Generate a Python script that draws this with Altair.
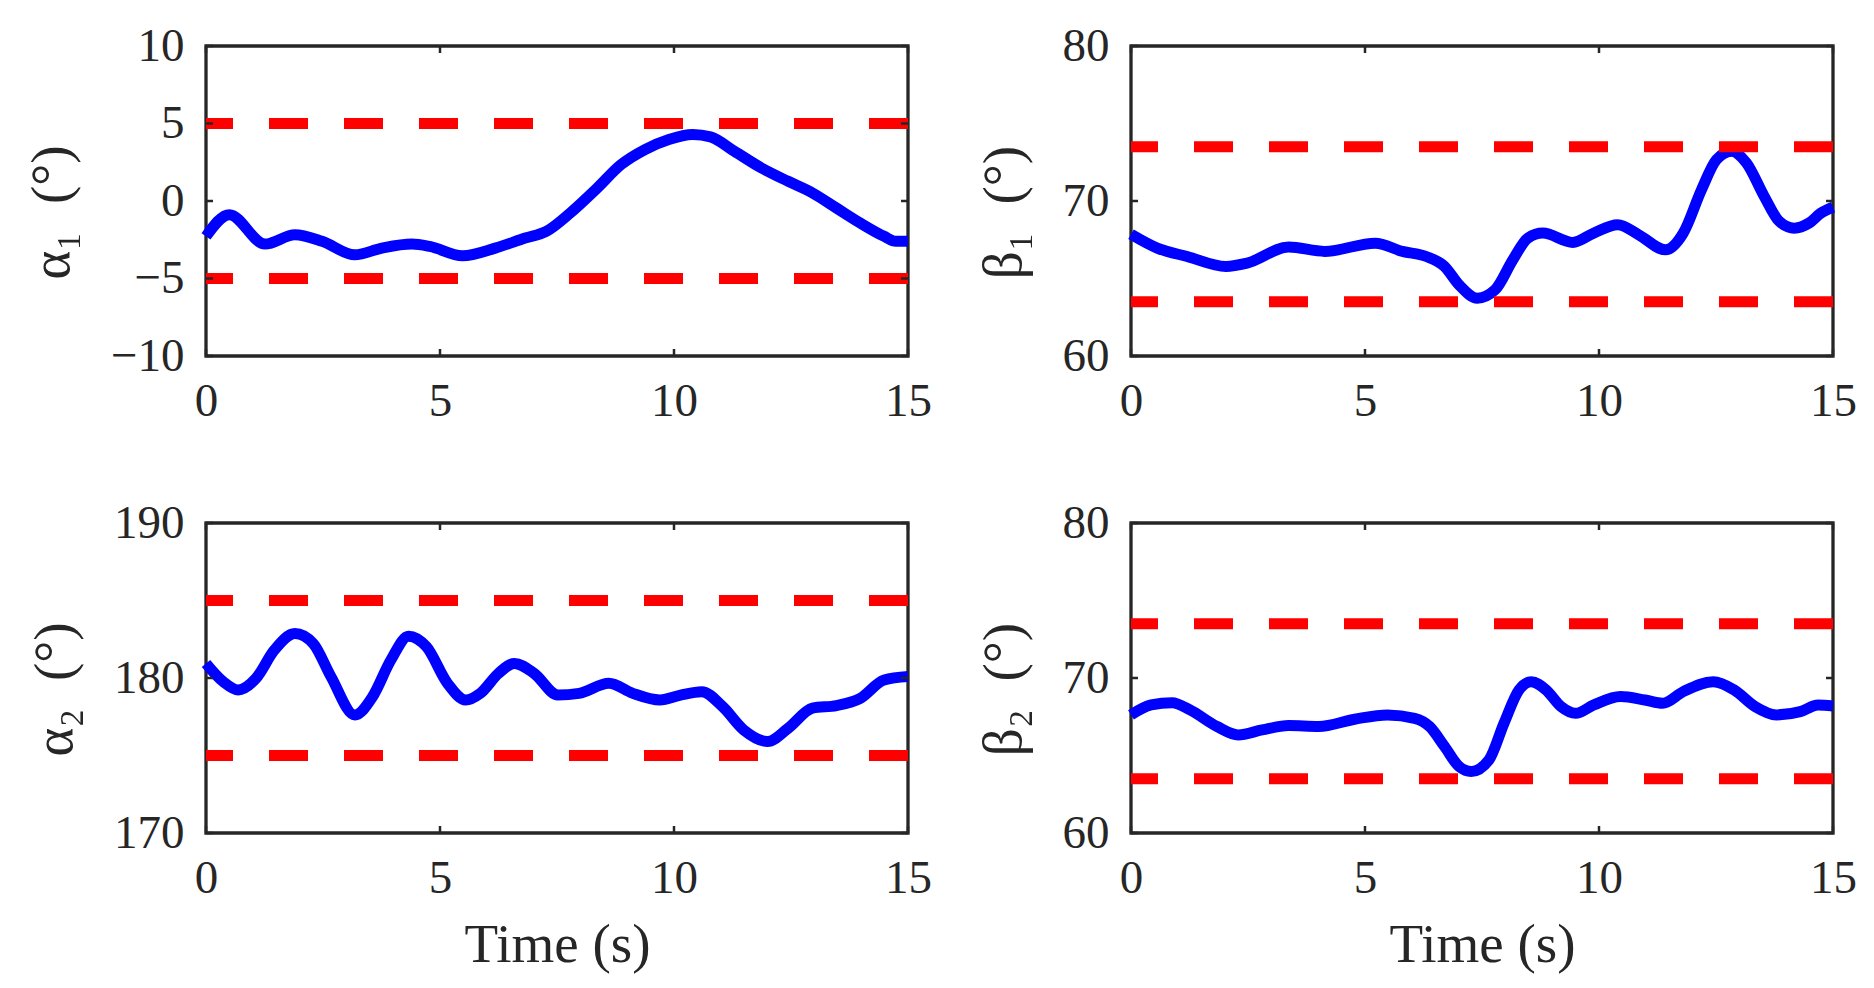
import altair as alt
import pandas as pd

FONT = "Liberation Serif"
INK = "#262626"
BLUE = "#0000ff"
RED = "#ff0000"

# ---- data ----
t_a1 = [0.0, 0.5, 1.26, 1.9, 2.48, 3.18, 3.76, 4.4, 4.78, 5.48, 6.18, 6.82, 7.27, 7.78,
        8.36, 8.87, 9.38, 9.89, 10.4, 10.78, 11.29, 11.87, 12.44, 12.96, 13.47, 13.98,
        14.49, 14.74, 15.0]
v_a1 = [-2.28, -0.88, -2.78, -2.18, -2.6, -3.47, -3.04, -2.78, -2.93, -3.53, -3.04, -2.39,
        -1.96, -0.78, 0.84, 2.35, 3.32, 3.97, 4.29, 4.14, 3.21, 2.13, 1.27, 0.52, -0.45,
        -1.42, -2.28, -2.6, -2.6]

t_b1 = [0.0, 0.56, 1.2, 2.03, 2.48, 3.37, 4.14, 5.22, 5.8, 6.31, 6.7, 7.01, 7.4, 7.78,
        8.16, 8.48, 8.8, 9.44, 9.89, 10.4, 10.85, 11.42, 11.8, 12.19, 12.51, 12.83, 13.15,
        13.53, 13.85, 14.17, 14.49, 14.74, 15.0]
v_b1 = [67.85, 66.96, 66.42, 65.78, 65.99, 67.03, 66.75, 67.28, 66.75, 66.42, 65.78, 64.59,
        63.73, 64.27, 66.21, 67.61, 67.93, 67.33, 67.93, 68.47, 67.82, 66.85, 67.93, 70.73,
        72.67, 73.21, 72.46, 70.3, 68.69, 68.25, 68.58, 69.22, 69.61]

t_a2 = [0.0, 0.37, 0.69, 1.07, 1.46, 1.9, 2.29, 2.67, 3.18, 3.56, 3.95, 4.33, 4.71, 5.16,
        5.55, 5.86, 6.25, 6.59, 7.01, 7.52, 7.97, 8.61, 9.12, 9.7, 10.14, 10.59, 11.04,
        11.49, 12.0, 12.44, 12.96, 13.47, 13.98, 14.49, 15.0]
v_a2 = [180.94, 179.76, 179.23, 179.98, 181.8, 182.87, 182.23, 180.09, 177.62, 178.8,
        181.16, 182.7, 182.02, 179.66, 178.58, 179.01, 180.3, 180.94, 180.3, 178.9, 179.01,
        179.66, 179.01, 178.58, 178.9, 179.12, 178.15, 176.65, 175.9, 176.76, 178.05,
        178.22, 178.69, 179.87, 180.09]

t_b2 = [0.0, 0.43, 0.88, 1.26, 1.84, 2.29, 2.8, 3.37, 4.01, 4.78, 5.48, 6.06, 6.38, 6.7,
        7.01, 7.27, 7.65, 7.97, 8.29, 8.55, 8.87, 9.19, 9.5, 9.89, 10.46, 10.98, 11.36,
        11.8, 12.44, 12.89, 13.34, 13.79, 14.3, 14.68, 15.0]
v_b2 = [67.62, 68.26, 68.41, 67.94, 66.87, 66.33, 66.65, 66.93, 66.87, 67.34, 67.62, 67.4,
        66.87, 65.58, 64.29, 63.97, 64.72, 67.08, 69.23, 69.76, 69.23, 68.15, 67.72, 68.26,
        68.8, 68.58, 68.37, 69.12, 69.76, 69.23, 68.15, 67.62, 67.83, 68.26, 68.2]

lim_a1 = [-5, 5]
lim_b1 = [63.5, 73.5]
lim_a2 = [175, 185]
lim_b2 = [63.5, 73.5]

x_ticks = [0, 5, 10, 15]
yt_a1 = [-10, -5, 0, 5, 10]
yt_b1 = [60, 70, 80]
yt_a2 = [170, 180, 190]
yt_b2 = [60, 70, 80]

W, H = 702, 310
TK = 7  # inward tick length


def panel(t, v, lims, yticks, ytitle, xtitle):
    xs = alt.Scale(domain=[0, 15], nice=False, zero=False)
    ys = alt.Scale(domain=[min(yticks), max(yticks)], nice=False, zero=False)
    xaxis = alt.Axis(values=x_ticks, labelPadding=22, labelFlush=False,
                     title=xtitle, titlePadding=17)
    yaxis = alt.Axis(values=yticks, title=ytitle, labelPadding=22, titlePadding=30,
                     titleY=H / 2 + 11)

    line = alt.Chart(pd.DataFrame({"t": t, "v": v})).mark_line(
        color=BLUE, strokeWidth=11, interpolate="monotone"
    ).encode(
        x=alt.X("t:Q", scale=xs, axis=xaxis),
        y=alt.Y("v:Q", scale=ys, axis=yaxis),
    )
    lim = alt.Chart(pd.DataFrame({"b": lims})).mark_rule(
        color=RED, strokeWidth=11, strokeDash=[39, 36]
    ).encode(y=alt.Y("b:Q", scale=ys, axis=yaxis))

    xt = pd.DataFrame({"t": x_ticks})
    yt = pd.DataFrame({"yv": yticks})
    tick_top = alt.Chart(xt).mark_rule(color=INK, strokeWidth=2.5).encode(
        x=alt.X("t:Q", scale=xs, axis=xaxis), y=alt.value(0), y2=alt.value(TK))
    tick_bot = alt.Chart(xt).mark_rule(color=INK, strokeWidth=2.5).encode(
        x=alt.X("t:Q", scale=xs, axis=xaxis), y=alt.value(H - TK), y2=alt.value(H))
    tick_l = alt.Chart(yt).mark_rule(color=INK, strokeWidth=2.5).encode(
        y=alt.Y("yv:Q", scale=ys, axis=yaxis), x=alt.value(0), x2=alt.value(TK))
    tick_r = alt.Chart(yt).mark_rule(color=INK, strokeWidth=2.5).encode(
        y=alt.Y("yv:Q", scale=ys, axis=yaxis), x=alt.value(W - TK), x2=alt.value(W))

    return alt.layer(line, lim, tick_top, tick_bot, tick_l, tick_r).properties(
        width=W, height=H)


p1 = panel(t_a1, v_a1, lim_a1, yt_a1, "α₁\u2002(°)", "")
p2 = panel(t_b1, v_b1, lim_b1, yt_b1, "β₁\u2002(°)", "")
p3 = panel(t_a2, v_a2, lim_a2, yt_a2, "α₂\u2002(°)", "Time (s)")
p4 = panel(t_b2, v_b2, lim_b2, yt_b2, "β₂\u2002(°)", "Time (s)")

chart = alt.concat(
    p1, p2, p3, p4, columns=2, spacing={"row": 71, "column": 40},
).properties(
    padding={"left": 14, "top": 12, "right": 3, "bottom": 3}
).configure_view(
    stroke=INK, strokeWidth=3.3
).configure_axis(
    labelFont=FONT, titleFont=FONT, labelFontSize=47, titleFontSize=55,
    labelColor=INK, titleColor=INK, titleFontWeight="normal",
    domain=False, ticks=False, grid=False,
)

chart.save("out.html", embed_options={"renderer": "svg", "actions": False})
